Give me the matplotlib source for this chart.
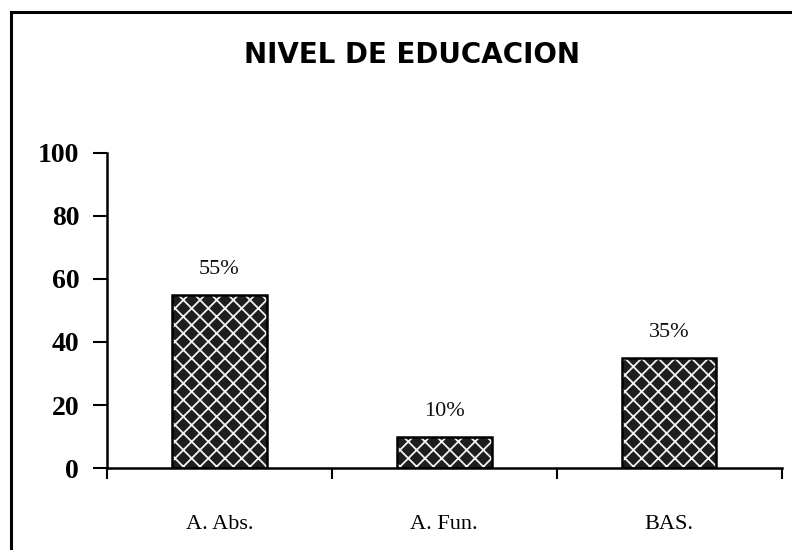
import matplotlib
matplotlib.use("Agg")
import matplotlib.pyplot as plt
from matplotlib.lines import Line2D

categories = ["A. Abs.", "A. Fun.", "BAS."]
values = [55, 10, 35]
value_labels = ["55%", "10%", "35%"]
yticks = [0, 20, 40, 60, 80, 100]
title = "NIVEL DE EDUCACION"

plt.rcParams['hatch.linewidth'] = 1.3

fig = plt.figure(figsize=(7.92, 5.5), dpi=100)
ax = fig.add_axes([0.135, 0.149, 0.852, 0.573])

x = list(range(len(categories)))
# textured fill: dark with white crosses
ax.bar(x, values, width=0.42, color='#1e1e1e', edgecolor='#f2f2f2',
       linewidth=0, hatch='xx', zorder=2)
# black outline
ax.bar(x, values, width=0.42, fill=False, edgecolor='black',
       linewidth=1.8, zorder=3)

for xi, v, lab in zip(x, values, value_labels):
    ax.text(xi, v + 5, lab, ha='center', va='bottom', fontsize=16,
            family='Liberation Serif', color='#111')

ax.set_xlim(-0.5, 2.5)
ax.set_ylim(0, 100)
ax.set_yticks(yticks)
ax.set_yticklabels([str(t) for t in yticks], fontsize=20,
                   family='Liberation Serif', fontweight='bold')
ax.set_xticks([-0.5, 0.5, 1.5, 2.5])
ax.set_xticklabels([])
ax.set_xticks(x, minor=True)
ax.set_xticklabels(categories, minor=True, fontsize=16, family='Liberation Serif')
ax.tick_params(axis='x', which='minor', length=0, pad=34)
ax.tick_params(axis='x', which='major', length=8, width=1.5, direction='out')
ax.tick_params(axis='y', length=10, width=1.5, direction='out', pad=10)

for s in ['top', 'right']:
    ax.spines[s].set_visible(False)
for s in ['left', 'bottom']:
    ax.spines[s].set_linewidth(1.8)

fig.text(0.52, 0.9, title, ha='center', va='center', fontsize=20,
         fontweight='bold', family='DejaVu Sans')

# outer frame
fig.add_artist(Line2D([0.014, 0.014], [0.0, 0.978], color='black', lw=2.2,
                      transform=fig.transFigure))
fig.add_artist(Line2D([0.014, 1.0], [0.978, 0.978], color='black', lw=2.2,
                      transform=fig.transFigure))

fig.savefig("out.png", dpi=100, facecolor='white')
